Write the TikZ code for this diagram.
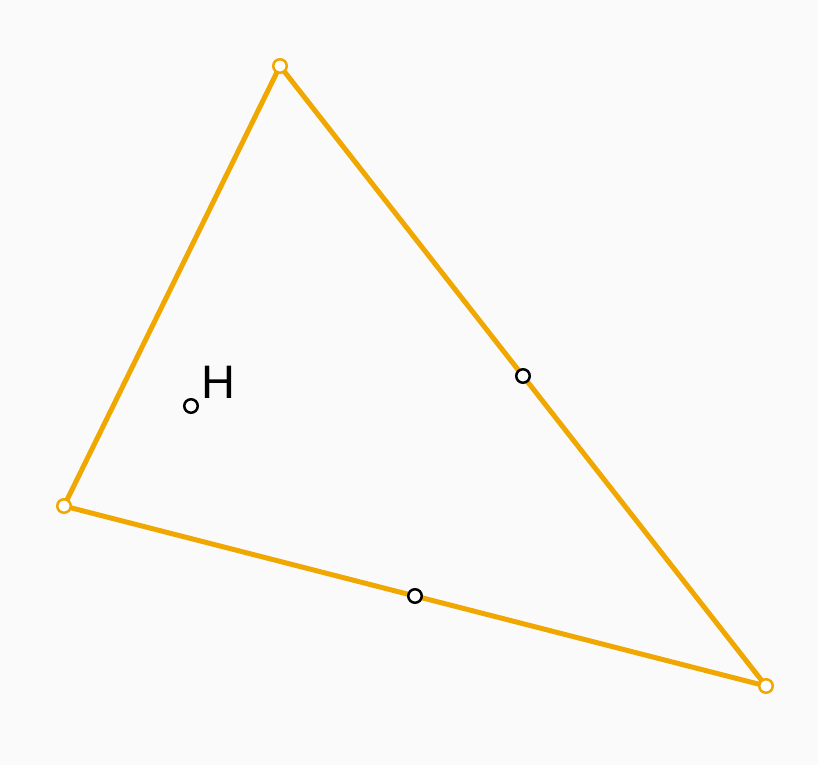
\documentclass[tikz,border=0pt]{standalone}
\usepackage{fontspec}
\setmainfont{Liberation Sans}
\definecolor{bg}{RGB}{250,250,250}
\definecolor{edge}{RGB}{240,168,0}
\tikzset{
  side/.style={draw=edge, line width=5pt, line cap=round},
  vert/.style={circle, draw=edge, fill=white, line width=2.5pt, minimum size=13.5pt, inner sep=0pt},
  pt/.style={circle, draw=black, fill=white, line width=2.5pt, minimum size=13.5pt, inner sep=0pt},
}
\begin{document}
\begin{tikzpicture}[x=1pt,y=-1pt]
\fill[bg] (0,0) rectangle (818,765);
\useasboundingbox (0,0) rectangle (818,765);
\coordinate (A) at (280,66);
\coordinate (B) at (64,506);
\coordinate (C) at (766,686);
\draw[side] (A) -- (B) -- (C) -- cycle;
\node[vert] (nA) at (A) {};
\node[vert] (nB) at (B) {};
\node[vert] (nC) at (C) {};
\node[pt] (mAC) at (523,376) {};
\node[pt] (mBC) at (415,596) {};
\node[pt] (H) at (191,406) {};
\node[anchor=base west, inner sep=0pt, font=\fontsize{47}{50}\selectfont] (Hl) at (201,398) {H};
\end{tikzpicture}
\end{document}
